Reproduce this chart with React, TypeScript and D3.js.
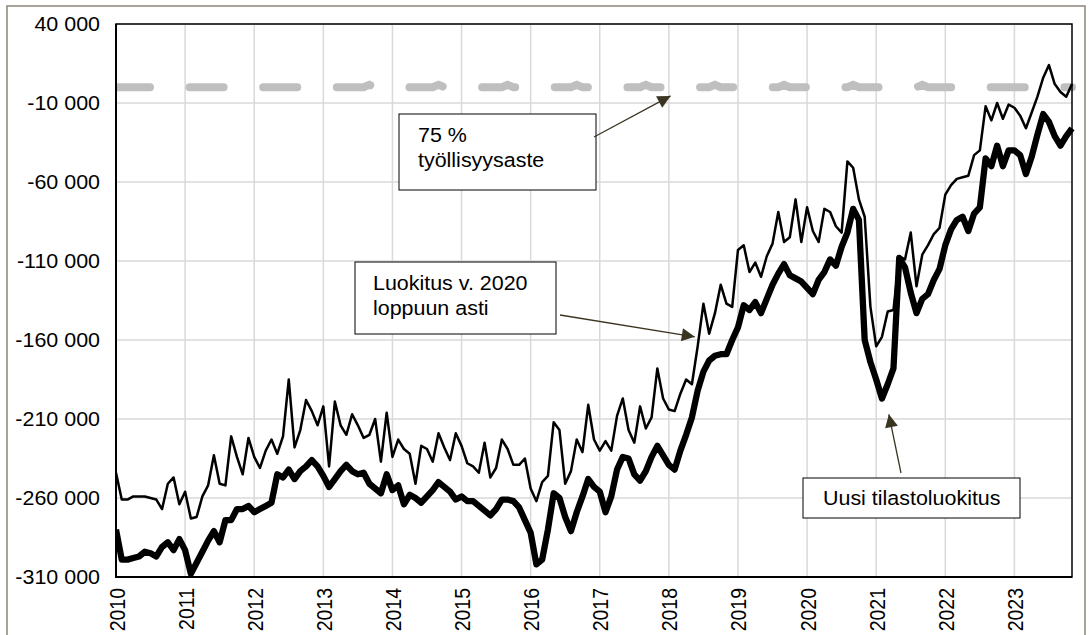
import React from 'react';
import * as d3 from 'd3';

// kuukausittain 1/2010 – 11/2023, tuhatta henkeä
const years = ['2010', '2011', '2012', '2013', '2014', '2015', '2016', '2017', '2018', '2019', '2020', '2021', '2022', '2023'];
const yTicks = [40, -10, -60, -110, -160, -210, -260, -310];

const uusiLuokitus = [
  -280, -299, -299, -298, -297, -294, -295, -297, -291, -288, -293, -286,
  -293, -308, -301, -294, -287, -281, -288, -274, -274, -267, -267, -265,
  -269, -267, -265, -263, -245, -247, -242, -248, -243, -240, -236, -240,
  -246, -253, -248, -243, -239, -243, -245, -244, -251, -254, -257, -245,
  -255, -252, -264, -258, -260, -263, -259, -255, -250, -253, -256, -261,
  -259, -262, -262, -265, -268, -271, -267, -261, -261, -262, -266, -274,
  -282, -302, -299, -280, -257, -260, -272, -281, -269, -259, -248, -253,
  -256, -269, -259, -242, -234, -235, -245, -249, -243, -234, -227, -233,
  -239, -242, -230, -220, -209, -192, -180, -173, -170, -169, -169, -160,
  -152, -138, -141, -136, -143, -134, -125, -118, -112, -119, -121, -123,
  -127, -131, -122, -117, -109, -113, -101, -92, -77, -84, -160, -174,
  -185, -197, -188, -178, -108, -114, -130, -143, -134, -131, -122, -115,
  -100, -90, -84, -82, -91, -80, -76, -45, -50, -37, -50, -40,
  -40, -43, -55, -44, -30, -17, -22, -31, -37, -31, -26,
];

const vanhaLuokitus = [
  -244, -261, -261, -259, -259, -259, -260, -261, -267, -251, -247, -264,
  -256, -273, -272, -259, -252, -233, -251, -252, -221, -234, -245, -222,
  -234, -241, -230, -223, -232, -221, -185, -228, -217, -198, -205, -214,
  -202, -240, -199, -214, -220, -207, -214, -222, -220, -210, -237, -206,
  -234, -223, -229, -232, -251, -227, -229, -237, -219, -228, -236, -219,
  -227, -238, -240, -244, -225, -247, -241, -223, -229, -239, -239, -235,
  -254, -262, -250, -246, -212, -217, -251, -243, -223, -231, -201, -223,
  -230, -224, -230, -208, -197, -217, -225, -202, -216, -209, -178, -197,
  -204, -205, -194, -185, -188, -164, -137, -156, -143, -125, -137, -139,
  -103, -100, -117, -111, -120, -107, -99, -79, -98, -95, -71, -98,
  -76, -91, -98, -77, -79, -88, -92, -47, -51, -71, -82, -139,
  -164, -158, -142, -141, -107, -109, -92, -126, -106, -100, -93, -89,
  -68, -62, -58, -57, -56, -43, -40, -12, -21, -10, -20, -11,
  -13, -18, -26, -16, -6, 6, 14, 2, -3, -6, 2,
];

const tavoite75 = [
  0, 0, 0, 0, 0, 0, 0, 0, 0, 0, 0, 0,
  0, 0, 0, 0, 0, 0, 0, 0, 0, 0, 0, 0,
  0, 0, 0, 0, 0, 0, 0, 0, 0, 0, 0, 0,
  0, 0, 0, 0, 0, 0, 0, 0, 1.5, 0, 0, 0,
  0, 0, 0, 0, 0, 0, 0, 0, 1.5, 0, 0, 0,
  0, 0, 0, 0, 0, 0, 0, 0, 1.5, 0, 0, 0,
  0, 0, 0, 0, 0, 0, 0, 0, 1.5, 0, 0, 0,
  0, 0, 0, 0, 0, 0, 0, 0, 1.5, 0, 0, 0,
  0, 0, 0, 0, 0, 0, 0, 0, 1.5, 0, 0, 0,
  0, 0, 0, 0, 0, 0, 0, 0, 1.5, 0, 0, 0,
  0, 0, 0, 0, 0, 0, 0, 0, 1.5, 0, 0, 0,
  0, 0, 0, 0, 0, 0, 0, 0, 1.5, 0, 0, 0,
  0, 0, 0, 0, 0, 0, 0, 0, 0, 0, 0, 0,
  0, 0, 0, 0, 0, 0, 0, 0, 0, 0, 0,
];

const FONT = '"Liberation Sans", Arial, Helvetica, sans-serif';
const FS = 19.5;
const SX = 1.1; // kuva on hieman venytetty vaakasuunnassa
const ARROW = '#3a3520';

const fmt = d3.formatLocale({ decimal: ',', thousands: ' ', grouping: [3], currency: ['', ' €'], minus: '-' }).format(',');

function SText({ x, y, anchor = 'start', children }: { x: number; y: number; anchor?: string; children: React.ReactNode }) {
  return (
    <text
      transform={`translate(${x},${y}) scale(${SX},1)`}
      textAnchor={anchor}
      fontFamily={FONT}
      fontSize={FS}
      fill="#000"
    >
      {children}
    </text>
  );
}

export default function App() {
  const W = 1091;
  const H = 635;
  const left = 116, right = 1072, top = 24, bottom = 577;

  const x = d3.scaleLinear().domain([0, uusiLuokitus.length - 1]).range([left, right]);
  const y = d3.scaleLinear().domain([-310, 40]).range([bottom, top]);

  const line = d3.line<number>().x((_, i) => x(i)).y((d) => y(d));

  // selitelaatikot (pikseleinä) ja nuolten kärjet (datakoordinaateissa)
  const notes = [
    { box: [399, 114, 197, 76], lines: ['75 %', 'työllisyysaste'], tx: 418, ty: 142, from: [594, 137], to: [96.3, -5.5] },
    { box: [355, 262, 201, 72], lines: ['Luokitus v. 2020', 'loppuun asti'], tx: 373, ty: 290, from: [560, 315], to: [100.5, -158] },
    { box: [803, 478, 217, 40], lines: ['Uusi tilastoluokitus'], tx: 823, ty: 505, from: [901, 473], to: [134.2, -207] },
  ];

  return (
    <svg width={W} height={H} style={{ position: 'absolute', left: 0, top: 0, background: '#fff' }}>
      <defs>
        <marker id="nuoli" viewBox="0 0 10 10" refX="10" refY="5" markerUnits="userSpaceOnUse" markerWidth="15" markerHeight="13" orient="auto">
          <path d="M0,0 L10,5 L0,10 z" fill={ARROW} />
        </marker>
        <clipPath id="plot">
          <rect x={left} y={top - 10} width={right - left + 4} height={bottom - top + 10} />
        </clipPath>
      </defs>

      <rect x={7} y={6} width={1078} height={640} fill="none" stroke="#8c8679" strokeWidth={1.5} />

      {/* ruudukko */}
      {yTicks.map((t) => (
        <line key={'h' + t} x1={left} x2={right} y1={y(t)} y2={y(t)} stroke="#d9d9d9" strokeWidth={1.5} />
      ))}
      {years.map((yr, k) => (
        <line key={'v' + yr} x1={x(k * 12)} x2={x(k * 12)} y1={top} y2={bottom} stroke="#d9d9d9" strokeWidth={1.5} />
      ))}

      <g clipPath="url(#plot)">
        <path d={line(tavoite75) ?? ''} fill="none" stroke="#bfbfbf" strokeWidth={8} strokeLinecap="round" strokeDasharray="34 39.6" />
        <path d={line(uusiLuokitus) ?? ''} fill="none" stroke="#000" strokeWidth={6.3} strokeLinejoin="round" />
        <path d={line(vanhaLuokitus) ?? ''} fill="none" stroke="#000" strokeWidth={2.5} strokeLinejoin="round" />
      </g>

      {/* akselit ja kehys */}
      <rect x={left} y={top} width={right - left} height={bottom - top} fill="none" stroke="#000" strokeWidth={1.5} />
      <line x1={left} x2={left} y1={top} y2={bottom + 1} stroke="#000" strokeWidth={2} />
      <line x1={left - 1} x2={right} y1={bottom} y2={bottom} stroke="#000" strokeWidth={2} />

      {yTicks.map((t) => (
        <SText key={'yl' + t} x={100} y={y(t) + 7} anchor="end">
          {fmt(t * 1000)}
        </SText>
      ))}
      {years.map((yr, k) => (
        <text
          key={'xl' + yr}
          transform={`translate(${x(k * 12) + 1},588) scale(${SX},1) rotate(-90)`}
          textAnchor="end"
          dy="0.35em"
          fontFamily={FONT}
          fontSize={FS}
        >
          {yr}
        </text>
      ))}

      {notes.map((n, i) => (
        <g key={'n' + i}>
          <rect x={n.box[0]} y={n.box[1]} width={n.box[2]} height={n.box[3]} fill="#fff" stroke="#000" strokeWidth={1} />
          {n.lines.map((l, j) => (
            <SText key={j} x={n.tx} y={n.ty + j * 25}>
              {l}
            </SText>
          ))}
          <line
            x1={n.from[0]}
            y1={n.from[1]}
            x2={x(n.to[0])}
            y2={y(n.to[1])}
            stroke={ARROW}
            strokeWidth={1.3}
            markerEnd="url(#nuoli)"
          />
        </g>
      ))}
    </svg>
  );
}
